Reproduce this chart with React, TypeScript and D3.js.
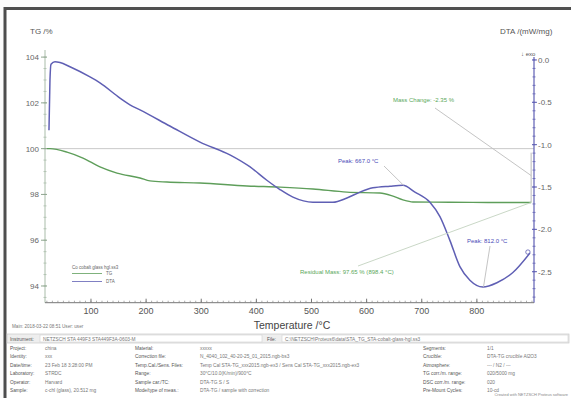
import React from "react";
import * as d3 from "d3";

// Thermal analysis run: temperature (°C) with TG (%) and DTA (mW/mg)
const tgTemp = [20.2, 25.6, 56.5, 85.5, 116.3, 147.2, 188.9, 207, 237.8, 297.7, 382.9, 442.8, 502.6, 564.3, 624.1, 645, 665.8, 684, 750, 820, 898.4];
const tgMass = [100.0, 100.0, 99.85, 99.59, 99.2, 98.93, 98.72, 98.59, 98.54, 98.5, 98.37, 98.32, 98.24, 98.1, 98.06, 97.95, 97.76, 97.67, 97.66, 97.65, 97.65];

const dtaTemp = [23.8, 25.6, 27.5, 34.7, 43.8, 61.9, 98.2, 116.3, 152.6, 170.7, 188.9, 243, 297.7, 352, 388, 419, 442.8, 466.3, 502.6, 538.9, 564.3, 587.9, 611.4, 642.3, 665.8, 687.6, 714.8, 733, 751, 769.2, 787.3, 810.9, 836.3, 865.3, 896.2];
const dtaSignal = [-0.83, -0.24, -0.05, -0.02, -0.03, -0.08, -0.2, -0.27, -0.45, -0.53, -0.59, -0.78, -0.97, -1.12, -1.26, -1.42, -1.53, -1.62, -1.68, -1.68, -1.63, -1.56, -1.51, -1.49, -1.48, -1.56, -1.68, -1.85, -2.13, -2.44, -2.6, -2.68, -2.63, -2.51, -2.28];

const tempTicks = [100, 200, 300, 400, 500, 600, 700, 800];
const tgTicks = [94, 96, 98, 100, 102, 104];
const dtaTicks = [0, -0.5, -1, -1.5, -2, -2.5];

const peak1 = { t: 667.0, v: -1.48 };
const peak2 = { t: 812.0, v: -2.68 };
const massChange = -2.35;
const residual = { mass: 97.65, t: 898.4 };

const TG_COLOR = "#5e9e5a";
const DTA_COLOR = "#5f5fb4";
const FONT = "'Liberation Sans', Arial, sans-serif";

const infoRows = [
  ["Project:", "china", "Material:", "xxxxx", "Segments:", "1/1"],
  ["Identity:", "xxx", "Correction file:", "N_4040_102_40-20-25_01_2015.ngb-bs3", "Crucible:", "DTA-TG crucible Al2O3"],
  ["Date/time:", "23 Feb 18 3:28:00 PM", "Temp.Cal./Sens. Files:", "Temp Cal STA-TG_xxx2015.ngb-ex3 / Sens Cal STA-TG_xxx2015.ngb-ex3", "Atmosphere:", "--- / N2 / ---"],
  ["Laboratory:", "STRDC", "Range:", "30°C/10.0(K/min)/900°C", "TG corr./m. range:", "020/5000 mg"],
  ["Operator:", "Harvard", "Sample car./TC:", "DTA-TG S / S", "DSC corr./m. range:", "020"],
  ["Sample:", "c-chl (glass), 20.512 mg", "Mode/type of meas.:", "DTA-TG / sample with correction", "Pre-Mount Cycles:", "10-cd"],
];

export default function App() {
  const x = d3.scaleLinear().domain([16.6, 903.6]).range([45, 534]);
  const yTG = d3.scaleLinear().domain([93.27, 104.31]).range([302.7, 50]);
  const yDTA = d3.scaleLinear().domain([-2.866, 0.035]).range([302.7, 57]);

  const tgLine = d3
    .line<number>()
    .x((_, i) => x(tgTemp[i]))
    .y((d) => yTG(d))
    .curve(d3.curveMonotoneX)(tgMass) as string;

  const dtaLine = d3
    .line<number>()
    .x((_, i) => x(dtaTemp[i]))
    .y((d) => yDTA(d))
    .curve(d3.curveMonotoneX)(dtaSignal) as string;

  const [x0, x1] = x.range();
  const yBottom = 302.7;
  const minorT = d3.range(20, 901, 10);
  const minorTG = d3.range(93.5, 104.3, 0.5);
  const minorDTA = d3.range(-2.8, 0.03, 0.1);

  const endT = residual.t;
  const fmt = (v: number) => v.toFixed(1);

  return (
    <svg
      width={571}
      height={398}
      style={{ position: "absolute", left: 0, top: 0, fontFamily: FONT }}
    >
      <rect x={0} y={0} width={571} height={398} fill="#fbfbfb" />
      <rect x={5} y={8.5} width={580} height={400} fill="#ffffff" stroke="#4d4d4d" strokeWidth={3} />

      {/* axis titles */}
      <text x={30} y={34} fontSize={8} fill="#555">TG /%</text>
      <text x={500} y={34} fontSize={8} fill="#555">DTA /(mW/mg)</text>
      <text x={521} y={56} fontSize={6} fill="#555">↓ exo</text>

      {/* TG = 100 % reference */}
      <line x1={x0} x2={x1} y1={yTG(100)} y2={yTG(100)} stroke="#c9c9c9" strokeWidth={1} />

      {/* left TG axis */}
      <line x1={x0} x2={x0} y1={50} y2={yBottom} stroke="#a9bca9" strokeWidth={1} />
      {minorTG.map((v) => (
        <line key={"mtg" + v} x1={x0 - 1.5} x2={x0 + 1.5} y1={yTG(v)} y2={yTG(v)} stroke="#a9bca9" strokeWidth={0.8} />
      ))}
      {tgTicks.map((v) => (
        <g key={"tg" + v}>
          <line x1={x0 - 4} x2={x0 + 2} y1={yTG(v)} y2={yTG(v)} stroke="#8fa68f" strokeWidth={1} />
          <text x={x0 - 6} y={yTG(v) + 3} fontSize={8} fill="#666" textAnchor="end">{v}</text>
        </g>
      ))}

      {/* right DTA axis */}
      <line x1={x1} x2={x1} y1={57} y2={yBottom} stroke={DTA_COLOR} strokeWidth={1.2} />
      {minorDTA.map((v) => (
        <line key={"md" + v} x1={x1 - 1.5} x2={x1 + 1.5} y1={yDTA(v)} y2={yDTA(v)} stroke={DTA_COLOR} strokeWidth={0.8} />
      ))}
      {dtaTicks.map((v) => (
        <g key={"dt" + v}>
          <line x1={x1 - 2} x2={x1 + 3} y1={yDTA(v)} y2={yDTA(v)} stroke={DTA_COLOR} strokeWidth={1} />
          <text x={x1 + 4} y={yDTA(v) + 3} fontSize={8} fill="#666">{fmt(v)}</text>
        </g>
      ))}

      {/* bottom temperature axis */}
      <line x1={x0} x2={x1} y1={yBottom} y2={yBottom} stroke="#777" strokeWidth={1} />
      {minorT.map((t) => (
        <line key={"mt" + t} x1={x(t)} x2={x(t)} y1={yBottom} y2={yBottom - 2} stroke="#888" strokeWidth={0.7} />
      ))}
      {tempTicks.map((t) => (
        <g key={"t" + t}>
          <line x1={x(t)} x2={x(t)} y1={yBottom} y2={yBottom - 4} stroke="#777" strokeWidth={1} />
          <text x={x(t)} y={yBottom + 11.5} fontSize={9} fill="#555" textAnchor="middle">{t}</text>
        </g>
      ))}
      <text x={292} y={328.5} fontSize={10.5} fill="#444" textAnchor="middle">Temperature /°C</text>

      {/* mass change step */}
      <line x1={x(endT)} x2={x(endT)} y1={yTG(100) + 4} y2={yTG(residual.mass)} stroke="#b9b9b9" strokeWidth={1} />

      {/* curves */}
      <path d={tgLine} fill="none" stroke={TG_COLOR} strokeWidth={1.4} />
      <path d={dtaLine} fill="none" stroke={DTA_COLOR} strokeWidth={1.5} />
      <circle cx={x(dtaTemp[dtaTemp.length - 1]) - 2} cy={yDTA(dtaSignal[dtaSignal.length - 1]) - 1} r={2.2} fill="none" stroke={DTA_COLOR} strokeWidth={0.8} />

      {/* annotations */}
      <line x1={435} y1={108} x2={x(endT)} y2={yTG((100 + residual.mass) / 2)} stroke="#bdbdbd" strokeWidth={0.9} />
      <text x={393} y={102} fontSize={6} fill="#5aa85a">Mass Change: {massChange.toFixed(2)} %</text>

      <line x1={358} y1={266} x2={x(endT)} y2={yTG(residual.mass)} stroke="#c3d3bf" strokeWidth={0.9} />
      <text x={300} y={274} fontSize={6} fill="#5aa85a">
        Residual Mass: {residual.mass.toFixed(2)} % ({residual.t.toFixed(1)} °C)
      </text>

      <line x1={384} y1={166} x2={x(peak1.t)} y2={yDTA(peak1.v)} stroke="#bdbdbd" strokeWidth={0.9} />
      <text x={338} y={163} fontSize={6} fill="#4a4ab8">Peak: {peak1.t.toFixed(1)} °C</text>

      <line x1={490} y1={246} x2={x(peak2.t)} y2={yDTA(peak2.v)} stroke="#bdbdbd" strokeWidth={0.9} />
      <text x={467} y={243} fontSize={6} fill="#4a4ab8">Peak: {peak2.t.toFixed(1)} °C</text>

      {/* legend */}
      <text x={72} y={269} fontSize={4.5} fill="#666">Co cobalt glass hgl.ss3</text>
      <line x1={72} x2={102} y1={273.5} y2={273.5} stroke={TG_COLOR} strokeWidth={0.8} />
      <text x={106} y={275} fontSize={4.5} fill="#666">TG</text>
      <line x1={72} x2={102} y1={281.5} y2={281.5} stroke={DTA_COLOR} strokeWidth={0.8} />
      <text x={106} y={283} fontSize={4.5} fill="#666">DTA</text>

      {/* run information */}
      <text x={12} y={328} fontSize={4.6} fill="#777">Main: 2018-03-22 08:51     User: user</text>
      <rect x={7} y={334} width={562} height={9} fill="#eeeeee" stroke="#c8c8c8" strokeWidth={0.7} />
      <text x={10} y={340.5} fontSize={4.8} fill="#555">Instrument:</text>
      <rect x={40} y={335} width={222} height={7} fill="#fff" stroke="#cfcfcf" strokeWidth={0.6} />
      <text x={43} y={340.5} fontSize={4.8} fill="#777">NETZSCH STA 449F3 STA449F3A-0603-M</text>
      <text x={267} y={340.5} fontSize={4.8} fill="#555">File:</text>
      <rect x={282} y={335} width={286} height={7} fill="#fff" stroke="#cfcfcf" strokeWidth={0.6} />
      <text x={285} y={340.5} fontSize={4.8} fill="#777">C:\NETZSCH\Proteus6\data\STA_TG_STA-cobalt-glass-hgl.ss3</text>
      {infoRows.map((r, i) => {
        const y = 349.5 + i * 8.5;
        return (
          <g key={"row" + i} fontSize={4.8}>
            <text x={10} y={y} fill="#555">{r[0]}</text>
            <text x={45} y={y} fill="#777">{r[1]}</text>
            <text x={135} y={y} fill="#555">{r[2]}</text>
            <text x={200} y={y} fill="#777">{r[3]}</text>
            <text x={423} y={y} fill="#555">{r[4]}</text>
            <text x={487} y={y} fill="#777">{r[5]}</text>
          </g>
        );
      })}
      <text x={568} y={396} fontSize={4} fill="#888" textAnchor="end">Created with NETZSCH Proteus software</text>
    </svg>
  );
}
